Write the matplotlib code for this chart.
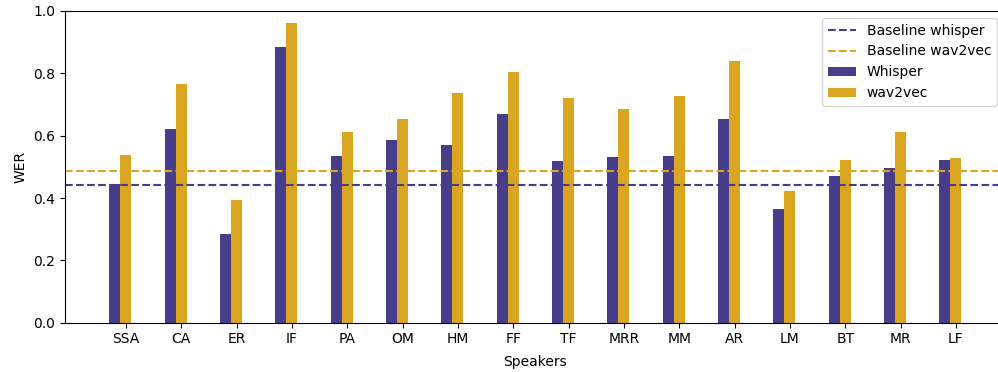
import numpy as np
import matplotlib
matplotlib.use('Agg')
import matplotlib.pyplot as plt

# Data
speakers = ['SSA', 'CA', 'ER', 'IF', 'PA', 'OM', 'HM', 'FF', 'TF', 'MRR',
            'MM', 'AR', 'LM', 'BT', 'MR', 'LF']
wer_whisper = [0.444, 0.620, 0.284, 0.885, 0.535, 0.585, 0.570, 0.671,
               0.520, 0.531, 0.535, 0.653, 0.366, 0.470, 0.495, 0.523]
wer_wav2vec = [0.538, 0.767, 0.395, 0.961, 0.613, 0.653, 0.738, 0.803,
               0.720, 0.685, 0.727, 0.839, 0.424, 0.523, 0.613, 0.527]
baseline_whisper = 0.442
baseline_wav2vec = 0.488

c_whisper = '#483D8B'
c_wav2vec = '#DAA520'

fig = plt.figure(figsize=(9.98, 3.72), dpi=100)
# axes runs slightly past the right edge, like the cropped original
ax = fig.add_axes([65/998, 49.3/372, 939/998, 311.7/372])

x = np.arange(len(speakers))
w = 0.2

ax.axhline(baseline_whisper, color=c_whisper, ls='--', label='Baseline whisper')
ax.axhline(baseline_wav2vec, color=c_wav2vec, ls='--', label='Baseline wav2vec')
ax.bar(x - w, wer_whisper, width=w, color=c_whisper, label='Whisper')
ax.bar(x, wer_wav2vec, width=w, color=c_wav2vec, label='wav2vec')

ax.set_xticks(x)
ax.set_xticklabels(speakers)
ax.set_ylim(0, 1.0)
ax.set_xlim(-1.1, 15.87)
ax.set_xlabel('Speakers', labelpad=6)
ax.set_ylabel('WER')
ax.spines['right'].set_visible(False)
ax.legend(loc='upper right')

fig.savefig('out.png', dpi=100)
